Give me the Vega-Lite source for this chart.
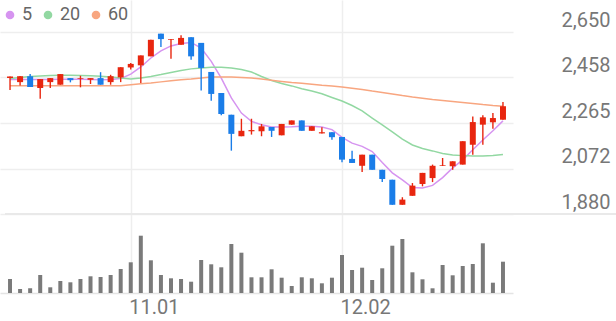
{
  "$schema": "https://vega.github.io/schema/vega-lite/v6.json",
  "width": 513,
  "height": 293,
  "autosize": {"type": "none"},
  "padding": {"left": 0, "top": 0, "right": 103, "bottom": 28},
  "background": "white",
  "config": {
    "view": {"stroke": null},
    "font": "Roboto"
  },
  "data": {"values": [
    {"i":0,"o":2455,"h":2462,"l":2405,"c":2462,"v":14000,"5":2449,"20":2453,"60":2423},
    {"i":1,"o":2438,"h":2464,"l":2424,"c":2463,"v":4000,"5":2449,"20":2458,"60":2423},
    {"i":2,"o":2463,"h":2472,"l":2417,"c":2417,"v":4700,"5":2449,"20":2462,"60":2423},
    {"i":3,"o":2413,"h":2451,"l":2368,"c":2451,"v":18000,"5":2449,"20":2464,"60":2423},
    {"i":4,"o":2438,"h":2455,"l":2413,"c":2455,"v":5700,"5":2449,"20":2466,"60":2423},
    {"i":5,"o":2427,"h":2472,"l":2427,"c":2472,"v":12000,"5":2450,"20":2467,"60":2423},
    {"i":6,"o":2455,"h":2455,"l":2437,"c":2446,"v":10700,"5":2450,"20":2467,"60":2423},
    {"i":7,"o":2452,"h":2465,"l":2416,"c":2455,"v":14000,"5":2450,"20":2466,"60":2423},
    {"i":8,"o":2448,"h":2455,"l":2430,"c":2455,"v":16700,"5":2449,"20":2465,"60":2423},
    {"i":9,"o":2455,"h":2480,"l":2427,"c":2427,"v":16000,"5":2448,"20":2463,"60":2423},
    {"i":10,"o":2438,"h":2469,"l":2427,"c":2463,"v":18000,"5":2449,"20":2460,"60":2423},
    {"i":11,"o":2458,"h":2501,"l":2438,"c":2501,"v":24000,"5":2453,"20":2455,"60":2423},
    {"i":12,"o":2500,"h":2519,"l":2491,"c":2515,"v":30700,"5":2472,"20":2451,"60":2427},
    {"i":13,"o":2509,"h":2551,"l":2434,"c":2551,"v":57300,"5":2502,"20":2455,"60":2431},
    {"i":14,"o":2547,"h":2617,"l":2547,"c":2617,"v":32700,"5":2540,"20":2462,"60":2434},
    {"i":15,"o":2643,"h":2643,"l":2587,"c":2620,"v":18000,"5":2570,"20":2470,"60":2439},
    {"i":16,"o":2617,"h":2620,"l":2537,"c":2620,"v":14700,"5":2591,"20":2479,"60":2444},
    {"i":17,"o":2596,"h":2636,"l":2596,"c":2625,"v":14000,"5":2601,"20":2487,"60":2448},
    {"i":18,"o":2628,"h":2628,"l":2533,"c":2547,"v":11300,"5":2606,"20":2494,"60":2451},
    {"i":19,"o":2604,"h":2604,"l":2402,"c":2498,"v":33000,"5":2582,"20":2498,"60":2455},
    {"i":20,"o":2481,"h":2481,"l":2359,"c":2388,"v":28700,"5":2526,"20":2501,"60":2460},
    {"i":21,"o":2392,"h":2392,"l":2298,"c":2303,"v":25700,"5":2455,"20":2501,"60":2460},
    {"i":22,"o":2300,"h":2300,"l":2148,"c":2219,"v":49000,"5":2371,"20":2498,"60":2460},
    {"i":23,"o":2209,"h":2283,"l":2209,"c":2232,"v":40300,"5":2307,"20":2491,"60":2458},
    {"i":24,"o":2230,"h":2283,"l":2216,"c":2235,"v":15700,"5":2272,"20":2481,"60":2455},
    {"i":25,"o":2230,"h":2261,"l":2209,"c":2251,"v":15700,"5":2258,"20":2462,"60":2451},
    {"i":26,"o":2248,"h":2248,"l":2206,"c":2232,"v":23700,"5":2248,"20":2445,"60":2446},
    {"i":27,"o":2213,"h":2261,"l":2213,"c":2261,"v":15300,"5":2248,"20":2432,"60":2441},
    {"i":28,"o":2258,"h":2276,"l":2258,"c":2276,"v":7000,"5":2249,"20":2422,"60":2436},
    {"i":29,"o":2276,"h":2276,"l":2232,"c":2232,"v":15700,"5":2251,"20":2410,"60":2433},
    {"i":30,"o":2232,"h":2251,"l":2232,"c":2251,"v":14700,"5":2251,"20":2400,"60":2429},
    {"i":31,"o":2221,"h":2247,"l":2221,"c":2226,"v":9700,"5":2248,"20":2389,"60":2425},
    {"i":32,"o":2226,"h":2226,"l":2194,"c":2205,"v":15300,"5":2237,"20":2373,"60":2422},
    {"i":33,"o":2206,"h":2206,"l":2099,"c":2110,"v":38000,"5":2204,"20":2358,"60":2417},
    {"i":34,"o":2113,"h":2148,"l":2096,"c":2096,"v":23000,"5":2180,"20":2339,"60":2412},
    {"i":35,"o":2084,"h":2131,"l":2058,"c":2131,"v":25300,"5":2166,"20":2316,"60":2407},
    {"i":36,"o":2131,"h":2131,"l":2067,"c":2067,"v":13000,"5":2144,"20":2286,"60":2400},
    {"i":37,"o":2067,"h":2067,"l":2015,"c":2028,"v":24700,"5":2098,"20":2257,"60":2394},
    {"i":38,"o":2025,"h":2025,"l":1919,"c":1919,"v":47300,"5":2054,"20":2227,"60":2388},
    {"i":39,"o":1919,"h":1951,"l":1919,"c":1941,"v":54000,"5":2024,"20":2197,"60":2381},
    {"i":40,"o":1957,"h":2011,"l":1957,"c":2000,"v":20700,"5":1992,"20":2172,"60":2375},
    {"i":41,"o":2007,"h":2054,"l":1997,"c":2054,"v":13700,"5":1990,"20":2157,"60":2370},
    {"i":42,"o":2032,"h":2089,"l":2015,"c":2084,"v":4700,"5":2001,"20":2147,"60":2364},
    {"i":43,"o":2083,"h":2117,"l":2083,"c":2086,"v":28000,"5":2034,"20":2136,"60":2360},
    {"i":44,"o":2082,"h":2103,"l":2067,"c":2103,"v":17700,"5":2075,"20":2130,"60":2356},
    {"i":45,"o":2089,"h":2188,"l":2089,"c":2188,"v":27000,"5":2109,"20":2127,"60":2352},
    {"i":46,"o":2173,"h":2293,"l":2131,"c":2269,"v":29000,"5":2152,"20":2125,"60":2348},
    {"i":47,"o":2258,"h":2298,"l":2173,"c":2289,"v":49700,"5":2193,"20":2125,"60":2343},
    {"i":48,"o":2268,"h":2307,"l":2241,"c":2286,"v":10300,"5":2232,"20":2128,"60":2339},
    {"i":49,"o":2279,"h":2354,"l":2279,"c":2336,"v":31300,"5":2274,"20":2132,"60":2336}
  ]},
  "encoding": {
    "x": {
      "field": "i", "type": "quantitative",
      "scale": {"domain": [-0.5, 49.5], "nice": false, "zero": false},
      "axis": {
        "values": [12, 33],
        "labelExpr": "datum.value == 12 ? '11.01' : '12.02'",
        "grid": true, "gridColor": "#eeeeee", "gridWidth": 1.5,
        "domain": true, "domainColor": "#e4e4e4", "domainWidth": 1.5,
        "ticks": false, "tickSize": 0,
        "labelAlign": "left", "labelPadding": 4, "labelOffset": -2, "labelFontSize": 20,
        "labelColor": "#777777", "labelFlush": false, "title": null
      }
    }
  },
  "layer": [
    {
      "mark": {"type": "bar", "size": 4, "color": "#7a7a7a"},
      "encoding": {
        "y": {"field": "v", "type": "quantitative", "scale": {"domain": [0, 293000], "nice": false}, "axis": null}
      }
    },
    {
      "layer": [
        {
          "transform": [{"fold": ["5", "20", "60"], "as": ["ma", "val"]}],
          "mark": {"type": "line", "strokeWidth": 1.5},
          "encoding": {
            "y": {"field": "val", "type": "quantitative"},
            "color": {
              "field": "ma", "type": "nominal",
              "scale": {"domain": ["5", "20", "60"], "range": ["#d694f0", "#92d8a2", "#f8a680"]},
              "legend": {
                "orient": "none", "legendX": 1, "legendY": 6, "direction": "horizontal",
                "columns": 3, "gridAlign": "each", "columnPadding": 6,
                "title": null, "symbolType": "circle", "symbolSize": 75,
                "labelFontSize": 18, "labelColor": "#666666", "labelOffset": 3,
                "encode": {
                  "symbols": {"update": {"fill": {"scale": "color", "field": "value"}, "strokeWidth": {"value": 0}, "opacity": {"value": 1}}}
                }
              }
            }
          }
        },
        {
          "mark": {"type": "rule", "strokeWidth": 1.4},
          "encoding": {
            "y": {"field": "l", "type": "quantitative"},
            "y2": {"field": "h"},
            "color": {"condition": {"test": "datum.c > datum.o", "value": "#e8260f"}, "value": "#1a7de8"}
          }
        },
        {
          "mark": {"type": "bar", "size": 6},
          "encoding": {
            "y": {"field": "o", "type": "quantitative"},
            "y2": {"field": "c"},
            "color": {"condition": {"test": "datum.c > datum.o", "value": "#e8260f"}, "value": "#1a7de8"}
          }
        },
        {
          "mark": {"type": "rule", "color": "#e8e8e8", "strokeWidth": 1.5},
          "encoding": {
            "y": {"datum": 1880, "type": "quantitative"},
            "x": {"datum": -0.5, "type": "quantitative"},
            "x2": {"datum": 61}
          }
        }
      ],
      "encoding": {
        "y": {
          "type": "quantitative",
          "scale": {"domain": [1545.8, 2785.4], "nice": false, "zero": false},
          "axis": {
            "orient": "right",
            "values": [1880, 2072.4, 2265, 2457.6, 2650],
            "format": ",.0f",
            "grid": true, "gridColor": "#eeeeee", "gridWidth": 1.5,
            "domain": false, "ticks": false, "tickSize": 0,
            "labelAlign": "right", "labelPadding": 97, "labelBaseline": "bottom", "labelOffset": -2,
            "labelFontSize": 20, "labelColor": "#777777", "title": null
          }
        }
      }
    }
  ],
  "resolve": {"scale": {"y": "independent"}}
}
